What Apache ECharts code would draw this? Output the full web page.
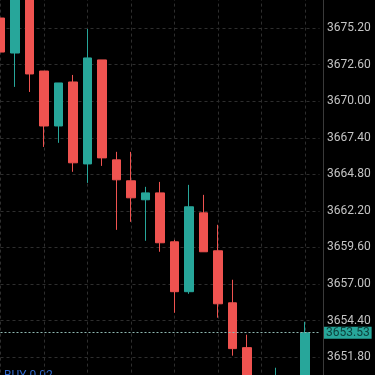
<!DOCTYPE html>
<html>
<head>
<meta charset="utf-8">
<script src="https://cdn.jsdelivr.net/npm/echarts@6/dist/echarts.min.js"></script>
<style>
html,body{margin:0;padding:0;background:#000;width:375px;height:375px;overflow:hidden;position:relative;}
#chart{position:absolute;left:0;top:-9px;width:375px;height:404px;}
</style>
</head>
<body>
<div id="chart"></div>
<script>
const categories = ['c0','c1','c2','c3','c4','c5','c6','c7','c8','c9','c10','c11','c12','c13','c14','c15','c16','c17','c18','c19','c20','c21','c22'];
const opens  = [3675.92, 3673.43, 3677.40, 3672.15, 3668.24, 3671.37, 3665.54, 3672.94, 3665.83, 3664.34, 3662.99, 3663.48, 3660.00, 3656.45, 3662.06, 3659.36, 3655.66, 3652.47, 3650.20, 3648.80, 3649.40, 3650.00];
const closes = [3673.50, 3677.60, 3671.94, 3668.24, 3671.30, 3665.62, 3673.08, 3665.97, 3664.41, 3663.13, 3663.48, 3659.93, 3656.45, 3662.49, 3659.29, 3655.59, 3652.40, 3649.60, 3648.90, 3650.30, 3650.20, 3653.53];
const lows   = [3673.50, 3671.02, 3670.66, 3666.75, 3667.04, 3664.98, 3664.19, 3665.40, 3660.85, 3661.42, 3660.07, 3659.29, 3654.95, 3656.30, 3659.29, 3654.60, 3651.90, 3649.30, 3648.50, 3648.40, 3649.00, 3649.70];
const highs  = [3675.92, 3678.00, 3677.60, 3672.15, 3671.30, 3671.87, 3675.14, 3672.94, 3666.40, 3666.40, 3663.91, 3664.26, 3660.14, 3664.05, 3663.34, 3661.21, 3657.30, 3653.39, 3650.30, 3651.04, 3650.40, 3654.31];
const lastPrice = 3653.53;
const yMin = 3649.2, yMax = 3677.8, yStep = 2.6;
const orderLabel = 'BUY 0.02';

const UP = '#27a69a', DOWN = '#ef5350';
const candleData = categories.map((c, i) => i < opens.length ? [opens[i], closes[i], lows[i], highs[i]] : '-');

const chart = echarts.init(document.getElementById('chart'), null, {renderer: 'canvas'});
chart.setOption({
  backgroundColor: '#000000',
  animation: false,
  grid: {left: 0.5, right: 55.5, top: 0.6, bottom: 1.4, containLabel: false},
  xAxis: {
    type: 'category',
    data: categories,
    boundaryGap: false,
    axisLine: {show: false},
    axisTick: {show: false},
    axisLabel: {show: false},
    splitLine: {show: true, interval: 2, lineStyle: {color: '#2e2e2e', type: [3, 3], width: 1}}
  },
  yAxis: {
    type: 'value',
    position: 'right',
    offset: 3.5,
    min: yMin,
    max: yMax,
    interval: yStep,
    scale: true,
    axisLine: {show: true, lineStyle: {color: '#3a3a3a', width: 1}},
    axisTick: {show: false},
    axisLabel: {
      color: '#c4c4c4', fontSize: 12, fontFamily: 'Roboto, sans-serif', margin: 4,
      showMinLabel: false, showMaxLabel: false,
      formatter: v => v.toFixed(2)
    },
    splitLine: {show: true, lineStyle: {color: '#2e2e2e', type: [3, 3], width: 1}}
  },
  series: [{
    type: 'candlestick',
    data: candleData,
    barWidth: 9,
    itemStyle: {color: UP, color0: DOWN, borderColor: UP, borderColor0: DOWN, borderWidth: 1},
    markLine: {
      silent: true,
      symbol: 'none',
      data: [{yAxis: lastPrice}],
      lineStyle: {color: '#8fb8b2', type: [2, 2], width: 1},
      label: {
        show: true, position: 'end', distance: 4.5,
        formatter: lastPrice.toFixed(2),
        backgroundColor: '#27a69a', color: '#0c3f3a',
        fontSize: 12, fontFamily: 'Roboto, sans-serif', lineHeight: 12, padding: [0, 2, 0, 2]
      }
    }
  }],
  graphic: [{
    type: 'text', left: 4, top: 379,
    style: {text: orderLabel, fill: '#2f66c8', font: '12px Roboto, sans-serif'}
  }]
});
</script>
</body>
</html>
